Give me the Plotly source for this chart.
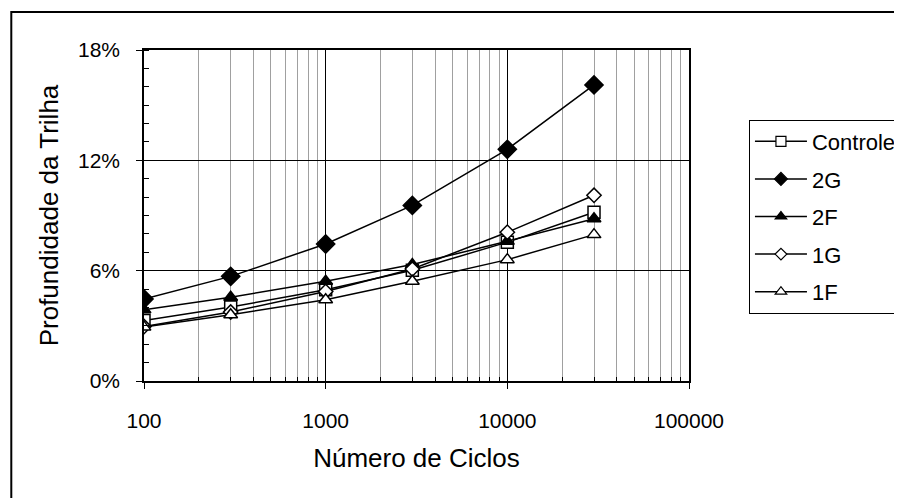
import plotly.graph_objects as go

ciclos = [100, 300, 1000, 3000, 10000, 30000]
controle = [3.29, 4.02, 4.96, 6.02, 7.55, 9.18]
g2 = [4.46, 5.69, 7.45, 9.55, 12.6, 16.1]
f2 = [3.87, 4.56, 5.42, 6.33, 7.6, 8.82]
g1 = [2.96, 3.75, 4.87, 6.09, 8.09, 10.1]
f1 = [2.93, 3.6, 4.42, 5.42, 6.6, 7.96]

series_names = ["Controle", "2G", "2F", "1G", "1F"]
series_vals = [controle, g2, f2, g1, f1]
symbols = ["square", "diamond", "triangle-up", "diamond", "triangle-up"]
fills = ["white", "black", "black", "white", "white"]
sizes = [12, 14, 12, 11, 12]
legend_sizes = [10, 10, 10, 9, 10]

x_tickvals = [100, 1000, 10000, 100000]
x_ticktext = ["100", "1000", "10000", "100000"]
y_tickvals = [0, 6, 12, 18]
y_ticktext = ["0%", "6%", "12%", "18%"]

FONT = "Liberation Sans, Arial, sans-serif"

fig = go.Figure()
for name, vals, sym, fc, sz in zip(series_names, series_vals, symbols, fills, sizes):
    fig.add_trace(go.Scatter(
        x=ciclos, y=vals, name=name, mode="lines+markers",
        showlegend=False,
        line=dict(color="black", width=1.5),
        marker=dict(symbol=sym, size=sz, color=fc,
                    line=dict(color="black", width=1.5)),
    ))
# legend entries (smaller markers, as in the original legend)
for name, sym, fc, lsz in zip(series_names, symbols, fills, legend_sizes):
    fig.add_trace(go.Scatter(
        x=[None], y=[None], name=name, mode="lines+markers",
        legendgroup=name, showlegend=True,
        line=dict(color="black", width=1.5),
        marker=dict(symbol=sym, size=lsz, color=fc,
                    line=dict(color="black", width=1.2)),
    ))

minor_x = [m * 10 ** e for e in range(2, 5) for m in range(2, 10)]

fig.update_xaxes(
    type="log", range=[2, 5], automargin=False,
    tickvals=x_tickvals, ticktext=x_ticktext,
    showgrid=True, gridcolor="black", gridwidth=1,
    showline=True, linecolor="black", linewidth=1.5, mirror=True,
    ticks="outside", ticklen=6, tickcolor="black",
    ticklabelstandoff=14,
    tickfont=dict(family=FONT, size=21, color="black"),
    title=dict(text="Número de Ciclos", font=dict(family=FONT, size=26, color="black"), standoff=18),
    minor=dict(tickvals=minor_x, showgrid=True, gridcolor="#a0a0a0", gridwidth=1,
               ticks="inside", ticklen=4, tickcolor="black"),
    zeroline=False,
)
fig.update_yaxes(
    range=[0, 18], automargin=False,
    tickvals=y_tickvals, ticktext=y_ticktext,
    showgrid=True, gridcolor="black", gridwidth=1,
    showline=True, linecolor="black", linewidth=1.5, mirror=True,
    ticks="outside", ticklen=6, tickcolor="black",
    ticklabelstandoff=12,
    tickfont=dict(family=FONT, size=21, color="black"),
    title=dict(text="Profundidade da Trilha", font=dict(family=FONT, size=26, color="black"), standoff=12),
    minor=dict(dtick=1, ticks="inside", ticklen=5, tickcolor="black", showgrid=False),
    zeroline=False,
)

fig.add_shape(type="rect", xref="paper", yref="paper",
              x0=-0.2435, x1=1.6, y0=-0.6, y1=1.115,
              line=dict(color="black", width=2), fillcolor="rgba(0,0,0,0)", layer="below")

fig.update_layout(
    width=894, height=490,
    margin=dict(l=136, r=213, t=42, b=117, autoexpand=False),
    paper_bgcolor="white", plot_bgcolor="white",
    font=dict(family=FONT, color="black"),
    legend=dict(
        x=1.11, y=0.79, xanchor="left", yanchor="top",
        bordercolor="black", borderwidth=1, bgcolor="white",
        font=dict(family=FONT, size=22, color="black"),
        tracegroupgap=6, itemwidth=52,
    ),
    showlegend=True,
)

fig.write_html("out.html")
